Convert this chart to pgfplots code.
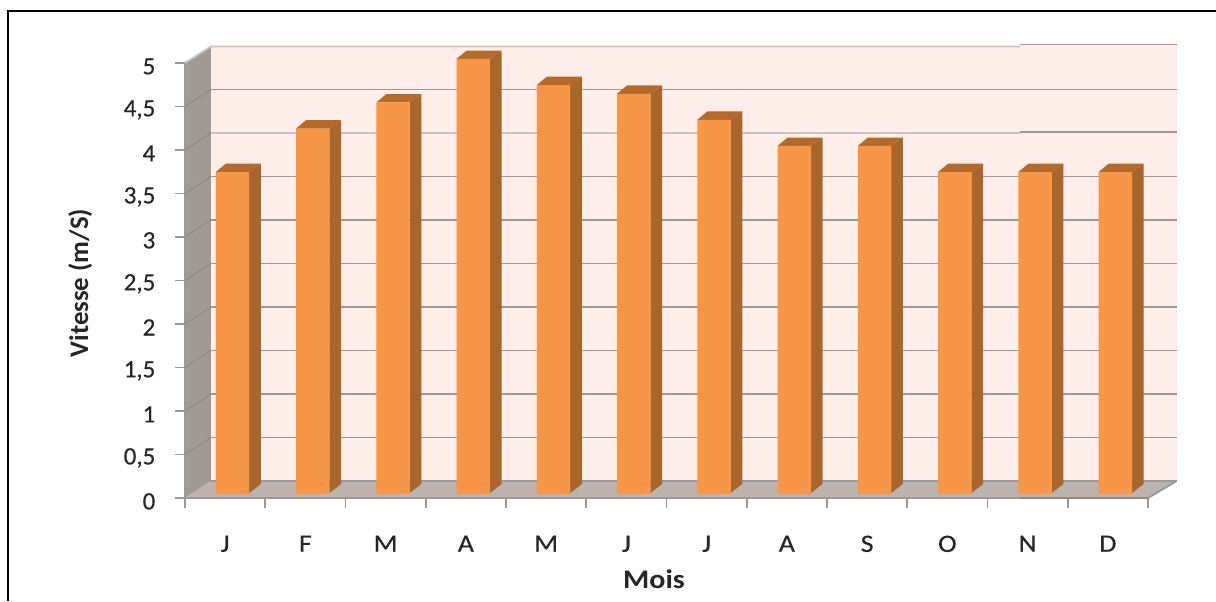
\documentclass[border=0pt]{standalone}
\usepackage{pgfplots}
\pgfplotsset{compat=1.18}
\usepackage{fontspec}
\setmainfont{Carlito}
\newfontfamily\tickfont[FakeBold=0.35]{Carlito}
\newfontfamily\xtickfont[FakeBold=0.35,FakeStretch=1.12]{Carlito}
\newfontfamily\ylabfont{Carlito}
\newfontfamily\xlabfont[FakeStretch=1.12]{Carlito}

\definecolor{wallback}{HTML}{FDEEE9}
\definecolor{wallside}{HTML}{A09A96}
\definecolor{wallfloor}{HTML}{BDB3AE}
\definecolor{gridgray}{HTML}{9A9997}
\definecolor{gridlight}{HTML}{C6C3C1}
\definecolor{slantgray}{HTML}{8E8985}
\definecolor{barfront}{HTML}{F79646}
\definecolor{barside}{HTML}{A8662B}
\definecolor{bartop}{HTML}{B56A2C}
\definecolor{labeltext}{HTML}{262626}

% 1 px of the reference = 0.5pt; one month = 80.25 px, one y unit = 87 px
\newcommand\wallline[1]{%
  \pgfmathsetmacro\ya{#1+0.195}
  \addplot[slantgray,line width=0.5pt,forget plot] coordinates {(0,#1) (0.324,\ya)};
  \addplot[gridgray,line width=0.9pt,forget plot] coordinates {(0.324,\ya) (12.355,\ya)};
}
% side and top of a bar: month index, value
\newcommand\barbox[2]{%
  \pgfmathsetmacro\xl{#1+0.383}
  \pgfmathsetmacro\xr{#1+0.800}
  \pgfmathsetmacro\xbl{#1+0.510}
  \pgfmathsetmacro\xbr{#1+0.945}
  \pgfmathsetmacro\yf{#2+0.046}
  \pgfmathsetmacro\yb{#2+0.143}
  \addplot[fill=barside,draw=none,forget plot] coordinates {(\xr,0.0575) (\xbr,0.1609) (\xbr,\yb) (\xr,\yf)};
  \addplot[fill=bartop,draw=none,forget plot] coordinates {(\xl,\yf) (\xbl,\yb) (\xbr,\yb) (\xr,\yf)};
}

\begin{document}
\begin{tikzpicture}
\begin{axis}[
  scale only axis,
  width=481.5pt,
  height=217.5pt,
  xmin=0, xmax=12,
  ymin=0, ymax=5,
  clip=false,
  axis lines=left,
  axis line style={-,gridgray,line width=0.9pt},
  tick align=outside,
  major tick length=4.8pt,
  tick style={gridgray,line width=0.9pt},
  xtick={0,...,12},
  x tick label as interval,
  xticklabels={J,F,M,A,M,J,J,A,S,O,N,D},
  ytick={0,0.5,...,5},
  /pgf/number format/assume math mode=true,
  /pgf/number format/use comma,
  xticklabel style={font=\xtickfont\fontsize{12.5}{14}\selectfont,text=labeltext,yshift=-10.5pt},
  yticklabel style={font=\tickfont\fontsize{12.5}{14}\selectfont,text=labeltext,xshift=-6.5pt,yshift=-1.7pt},
  xlabel={Mois},
  ylabel={Vitesse (m/S)},
  every axis x label/.style={at={(axis cs:5.844,-0.931)},anchor=center,font=\xlabfont\fontsize{13.4}{15}\selectfont\bfseries,text=labeltext},
  every axis y label/.style={at={(axis cs:-1.305,2.47)},anchor=center,rotate=90,font=\ylabfont\fontsize{13.4}{15}\selectfont\bfseries,text=labeltext},
]
% walls and floor
\addplot[fill=wallback,draw=none,forget plot] coordinates {(0.324,0.195) (12.355,0.195) (12.355,5.19) (0.324,5.19)};
\addplot[fill=wallback,draw=none,forget plot] coordinates {(10.405,5.19) (12.355,5.19) (12.355,5.213) (10.405,5.213)};
\addplot[fill=wallside,draw=none,forget plot] coordinates {(0,0) (0.324,0.195) (0.324,5.195) (0,5)};
\addplot[fill=wallfloor,draw=none,forget plot] coordinates {(0,0) (0.324,0.195) (12.355,0.195) (12,0)};

\wallline{0.5}\wallline{1}\wallline{1.5}\wallline{2}\wallline{2.5}
\wallline{3}\wallline{3.5}\wallline{4.5}
% the top lines are offset and darker past N in the scan
\addplot[slantgray,line width=0.5pt,forget plot] coordinates {(0,4) (0.324,4.195)};
\addplot[gridlight,line width=0.9pt,forget plot] coordinates {(0.324,4.199) (10.405,4.199)};
\addplot[gridgray,line width=1.1pt,forget plot] coordinates {(10.405,4.21) (12.355,4.21)};
\addplot[gridlight,line width=0.9pt,forget plot] coordinates {(0,5) (0.324,5.19) (10.405,5.19)};
\addplot[gridgray,line width=0.9pt,forget plot] coordinates {(10.405,5.213) (12.355,5.213)};

\addplot[gridgray,line width=0.9pt,forget plot] coordinates {(0.324,0.195) (12.355,0.195)};
\addplot[gridgray,line width=0.9pt,forget plot] coordinates {(0,0) (12,0) (12.355,0.195)};
\addplot[slantgray,line width=1.2pt,forget plot] coordinates {(10.405,0) (12,0)};

\barbox{0}{3.7}\barbox{1}{4.2}\barbox{2}{4.5}\barbox{3}{5}
\barbox{4}{4.7}\barbox{5}{4.6}\barbox{6}{4.3}\barbox{7}{4}
\barbox{8}{4}\barbox{9}{3.7}\barbox{10}{3.7}\barbox{11}{3.7}

\addplot[ybar,bar width=0.417,bar shift=0pt,fill=barfront,draw=none,yshift=2pt,forget plot] coordinates {
  (0.592,3.7) (1.592,4.2) (2.592,4.5) (3.592,5) (4.592,4.7) (5.592,4.6)
  (6.592,4.3) (7.592,4) (8.592,4) (9.592,3.7) (10.592,3.7) (11.592,3.7)
};

% page corners and the frame of the scan
\coordinate (tl) at (axis cs:-2.305,5.724);
\coordinate (br) at (axis cs:12.847,-1.184);
\draw[black,line width=1pt] (axis cs:-2.2115,-1.184) -- (axis cs:-2.2115,5.598) -- (axis cs:12.847,5.598);
\end{axis}
\pgfresetboundingbox
\path[use as bounding box] (tl) rectangle (br);
\end{tikzpicture}
\end{document}
